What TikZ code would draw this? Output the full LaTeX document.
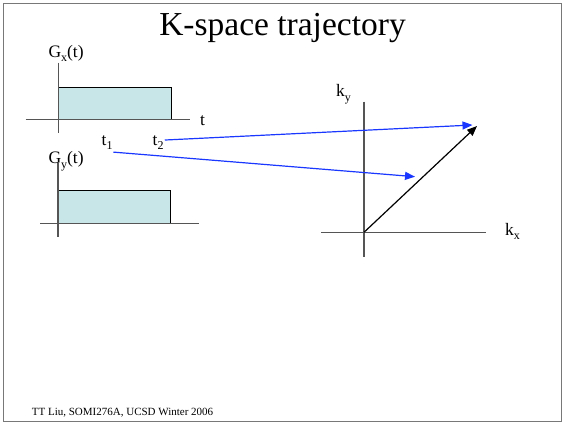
\documentclass[tikz,border=0pt]{standalone}
\usepackage{fontspec}
\setmainfont{Liberation Serif}
\usetikzlibrary{arrows.meta}
\definecolor{pulsefill}{RGB}{200,230,232}
\definecolor{trajblue}{RGB}{25,55,255}
\definecolor{axisgray}{RGB}{85,85,85}
\definecolor{framegray}{RGB}{120,120,120}
\newcommand\lowsub[1]{\raisebox{-0.28em}{\fontsize{12}{12}\selectfont #1}}
\begin{document}
\begin{tikzpicture}[x=1pt,y=-1pt,
  lbl/.style={inner sep=0pt, anchor=base west, font=\fontsize{17.5}{17.5}\selectfont},
  axisline/.style={draw=axisgray, line width=1.2pt},
  pulse/.style={fill=pulsefill, draw=black, line width=0.9pt},
  bluearrow/.style={draw=trajblue, line width=1.2pt, -{Triangle[length=10pt,width=8pt]}},
  blackarrow/.style={draw=black, line width=1.2pt, -{Triangle[length=10pt,width=8pt]}}]
\useasboundingbox (0,0) rectangle (564,424);
\draw[framegray, line width=0.9pt] (3,3) rectangle (561,421.5);
% title
\node[inner sep=0pt, anchor=base, font=\fontsize{33.5}{33.5}\selectfont] (title) at (282.5,35) {K-space trajectory};
% Gx pulse
\path[pulse] (58.3,87.3) rectangle (171.3,119.3);
\draw[axisline] (25.7,119.3) -- (190,119.3);
\draw[axisline] (58.3,62.7) -- (58.3,133);
\node[lbl] (gx) at (48.3,57) {G\lowsub{x}(t)};
\node[lbl] (tlab) at (200,125) {t};
% Gy pulse
\path[pulse] (58,190.3) rectangle (170.3,223.3);
\draw[axisline] (40,223.3) -- (199,223.3);
\draw[axisline] (58,163) -- (58,237);
\node[lbl] (gy) at (48.3,163.3) {G\lowsub{y}(t)};
% time labels
\node[lbl] (t1) at (101.5,145) {t\lowsub{1}};
\node[lbl] (t2) at (152.5,145) {t\lowsub{2}};
% k-space axes
\draw[axisline] (321,232.3) -- (485.7,232.3);
\draw[axisline] (364,101.7) -- (364,256.7);
\node[lbl] (ky) at (336,96.7) {k\lowsub{y}};
\node[lbl] (kx) at (505,235) {k\lowsub{x}};
\coordinate (origin) at (364,232.3);
\coordinate (kend) at (477,126);
\coordinate (k2) at (472.5,125);
\coordinate (k1) at (415,176.7);
% trajectory
\draw[blackarrow] (origin) -- (kend);
\draw[bluearrow] (t2.east) ++(1,-2.5) -- (k2);
\draw[bluearrow] (t1.south east) ++(0.5,2) -- (k1);
% footer
\node[inner sep=0pt, anchor=base west, font=\fontsize{11}{11}\selectfont] (footer) at (31.7,415) {TT Liu, SOMI276A, UCSD Winter 2006};
\end{tikzpicture}
\end{document}
